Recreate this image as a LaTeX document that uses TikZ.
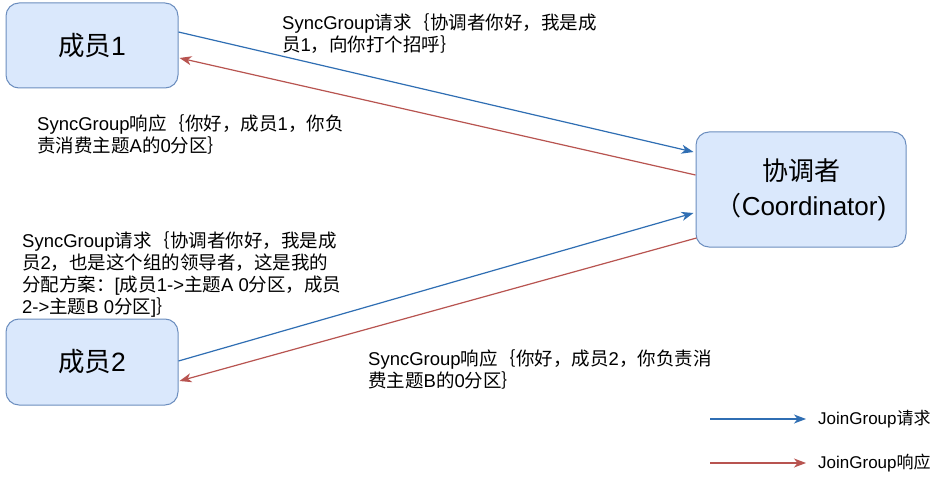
\documentclass[tikz,border=0pt]{standalone}
\usepackage{fontspec}
\setmainfont{Liberation Sans}
\newfontfamily\cjk{Noto Sans CJK SC}
\usetikzlibrary{arrows.meta}
\definecolor{boxfill}{HTML}{DAE8FC}
\definecolor{boxline}{HTML}{6C8EBF}
\definecolor{reqblue}{HTML}{2F6EB3}
\definecolor{resred}{HTML}{B85450}
\newcommand{\zh}[1]{{\cjk #1}}
\begin{document}
\begin{tikzpicture}[x=1pt,y=-1pt,
  box/.style={draw=boxline, fill=boxfill, line width=1pt, rounded corners=13pt, inner sep=0pt, align=center},
  note/.style={anchor=north west, align=left, inner sep=0pt, font=\fontsize{18.5}{22}\selectfont},
  legendtext/.style={anchor=west, inner sep=0pt, font=\fontsize{17}{20}\selectfont},
  req/.style={draw=reqblue, line width=1.2pt, -{Stealth[length=12pt,width=9pt,inset=3.5pt]}},
  res/.style={draw=resred, line width=1.2pt, -{Stealth[length=12pt,width=9pt,inset=3.5pt]}}]
\useasboundingbox (0,0) rectangle (945,492);
\fill[white] (0,0) rectangle (945,492);

\node[box, minimum width=172pt, minimum height=85pt, font=\fontsize{26.5}{30}\selectfont] (m1) at (92,45.5) {\zh{成员}1};
\node[box, minimum width=172pt, minimum height=86pt, font=\fontsize{26.5}{30}\selectfont] (m2) at (92,362) {\zh{成员}2};
\node[box, minimum width=210pt, minimum height=115pt, font=\fontsize{26}{35}\selectfont] (co) at (801,189.5) {\zh{协调者}\\\zh{（}Coordinator)};

\draw[req] ([yshift=13.5pt]m1.east) -- ([xshift=-2pt,yshift=37.5pt]co.west);
\draw[res] ([yshift=14.5pt]co.west) -- ([xshift=1pt,yshift=-12.5pt]m1.east);
\draw[req] ([yshift=1pt]m2.east) -- ([xshift=-2pt,yshift=-23.5pt]co.west);
\draw[res] ([xshift=1pt,yshift=-48.5pt]co.west) -- ([xshift=1pt,yshift=-19pt]m2.east);

\node[note] (t1) at (282,13) {SyncGroup\zh{请求｛协调者你好，我是成}\\\zh{员}1\zh{，向你打个招呼｝}};
\node[note] (t2) at (37,114) {SyncGroup\zh{响应｛你好，成员}1\zh{，你负}\\\zh{责消费主题}A\zh{的}0\zh{分区｝}};
\node[note] (t3) at (22,231) {SyncGroup\zh{请求｛协调者你好，我是成}\\\zh{员}2\zh{，也是这个组的领导者，这是我的}\\\zh{分配方案：}[\zh{成员}1->\zh{主题}A 0\zh{分区，成员}\\2->\zh{主题}B 0\zh{分区}]\zh{｝}};
\node[note] (t4) at (368,349) {SyncGroup\zh{响应｛你好，成员}2\zh{，你负责消}\\\zh{费主题}B\zh{的}0\zh{分区｝}};

\coordinate (q0) at (710,419);
\coordinate (q1) at (806,419);
\coordinate (r0) at (710,463);
\coordinate (r1) at (806,463);
\draw[req] (q0) -- (q1);
\draw[res] (r0) -- (r1);
\node[legendtext] (lq) at (818,419) {JoinGroup\zh{请求}};
\node[legendtext] (lr) at (818,463) {JoinGroup\zh{响应}};
\end{tikzpicture}
\end{document}
